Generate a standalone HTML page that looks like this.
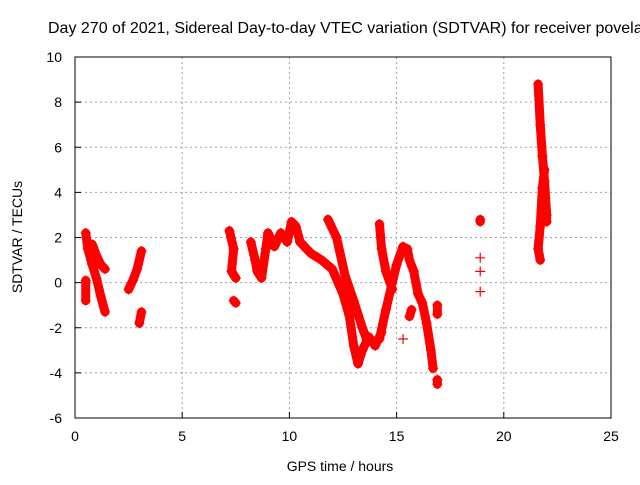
<!DOCTYPE html>
<html><head><meta charset="utf-8"><style>
body{margin:0;background:#fff;}
svg text{font-family:"Liberation Sans",sans-serif;font-size:14px;fill:#000;}
</style></head><body>
<svg id="chart" width="640" height="480">
<text x="48" y="33" style="font-size:16px">Day 270 of 2021, Sidereal Day-to-day VTEC variation (SDTVAR) for receiver povelacl</text>
<text x="340" y="471" text-anchor="middle">GPS time / hours</text>
<text transform="translate(22,237) rotate(-90)" text-anchor="middle">SDTVAR / TECUs</text>
<g id="grid"></g><g id="marks"></g>
<rect x="75" y="57" width="536" height="361" fill="none" stroke="#000" stroke-width="1"/>
</svg>
<script>
const xTicks=[0,5,10,15,20,25];
const yTicks=[-6,-4,-2,0,2,4,6,8,10];
const tracks=[
[[0.5,2.2],[0.6,1.5],[0.8,0.8],[1.0,0.2],[1.2,-0.6],[1.4,-1.3]],
[[0.8,1.7],[1.0,1.2],[1.2,0.8],[1.4,0.6]],
[[0.5,0.1],[0.5,-0.8]],
[[2.5,-0.3],[2.7,0.1],[2.9,0.6],[3.1,1.4]],
[[3.0,-1.8],[3.1,-1.3]],
[[7.2,2.3],[7.4,1.5],[7.3,0.5],[7.5,0.2]],
[[7.4,-0.8],[7.5,-0.9]],
[[8.2,1.8],[8.4,1.0],[8.5,0.5],[8.7,0.2],[8.9,1.5],[9.0,2.2],[9.3,1.6],[9.6,2.2],[9.9,1.8],[10.1,2.7],[10.3,2.5],[10.5,1.8]],
[[10.5,1.8],[11,1.3],[11.5,1.0],[12,0.6],[12.5,-0.5],[12.8,-1.5],[13,-2.8],[13.2,-3.6],[13.4,-3.0],[13.7,-2.4],[14,-2.8],[14.3,-2.2]],
[[11.8,2.8],[12.2,2.0],[12.6,0.3],[13,-0.8],[13.4,-2.0],[13.6,-2.5]],
[[14.2,2.6],[14.3,1.5],[14.5,0.5],[14.8,-0.3]],
[[14.2,-2.5],[14.5,-1.2],[14.8,0],[15.0,0.8],[15.3,1.6]],
[[15.5,1.5],[15.6,1.0],[15.8,0.5],[16.0,-0.5],[16.2,-0.9],[16.4,-1.8],[16.6,-3.0],[16.7,-3.8]],
[[15.6,-1.5],[15.7,-1.2]],
[[16.9,-1.0],[16.9,-1.4]],
[[16.9,-4.3],[16.9,-4.5]],
[[15.3,-2.5]],
[[18.9,2.8],[18.9,2.7]],
[[18.9,1.1]],[[18.9,0.5]],[[18.9,-0.4]],
[[21.6,8.8],[21.7,7.0],[21.8,5.6],[21.9,4.5],[22.0,3.0],[22.0,2.7]],
[[21.7,1.0],[21.6,1.5],[21.7,2.5],[21.8,4.2],[21.9,5.0]]
];
const X=v=>75+v*536/25, Y=v=>418-(v+6)*361/16;
const NS="http://www.w3.org/2000/svg";
const svg=document.getElementById('chart'),grid=document.getElementById('grid'),marks=document.getElementById('marks');
function mk(t,a,p){const e=document.createElementNS(NS,t);for(const k in a)e.setAttribute(k,a[k]);p.appendChild(e);return e;}
xTicks.forEach(v=>{
 if(v>0&&v<25){const g=mk('line',{x1:X(v),x2:X(v),y1:57,y2:418,stroke:'#a0a0a0','stroke-dasharray':'2,3'},grid);
 
 }
 const t=mk('text',{x:X(v),y:441,'text-anchor':'middle'},svg);t.textContent=v;
 
 
 mk('line',{x1:X(v),x2:X(v),y1:418,y2:412,stroke:'#000'},svg);
});
yTicks.forEach(v=>{
 if(v>-6&&v<10){const g=mk('line',{x1:75,x2:611,y1:Y(v),y2:Y(v),stroke:'#a0a0a0','stroke-dasharray':'2,3'},grid);
 
 }
 const t=mk('text',{x:62,y:Y(v)+5,'text-anchor':'end'},svg);t.textContent=v;
 
 
 mk('line',{x1:75,x2:81,y1:Y(v),y2:Y(v),stroke:'#000'},svg);
});
tracks.forEach(tr=>{
 const pts=tr.map(p=>X(p[0])+','+Y(p[1])).join(' ');
 const pl=mk('polyline',{points:pts,fill:'none',stroke:'#f00','stroke-width':9,'stroke-linejoin':'round','stroke-linecap':'round'},marks);
 
 
 tr.forEach(p=>{
  const x=X(p[0]),y=Y(p[1]);
  const m=mk('path',{d:`M${x-5},${y}h10M${x},${y-5}v10`,stroke:'#f00','stroke-width':1.2},marks);
  
  
 });
});
</script>
</body></html>
